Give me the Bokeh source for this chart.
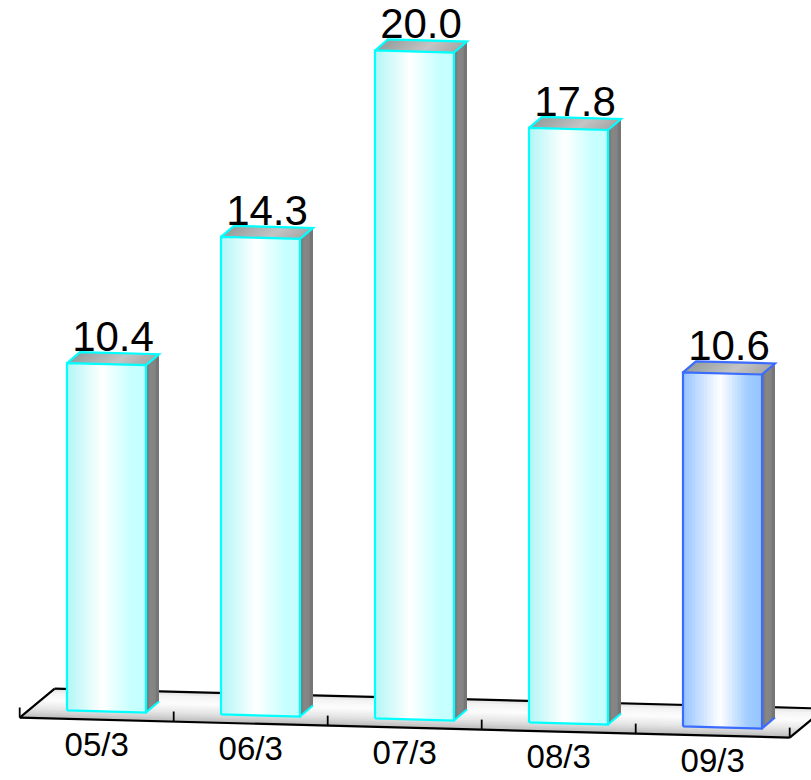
import numpy as np
from bokeh.plotting import figure
from bokeh.models import Range1d
from bokeh.core.properties import value
from bokeh.embed import file_html
from bokeh.resources import INLINE

# ---- data ----
categories = ["05/3", "06/3", "07/3", "08/3", "09/3"]
values = [10.4, 14.3, 20.0, 17.8, 10.6]
highlighted = [False, False, False, False, True]

# ---- oblique projection (data units: x = category step, y = value) ----
PX_X = 154.0          # screen pixels per category step
PX_Y = 33.4           # screen pixels per value unit
SLANT = -4.0 / PX_Y   # floor drops a little towards the right
BAR_W = 0.513
BAR_D = (13.0 / PX_X, 11.0 / PX_Y)         # depth of a bar
FLOOR_FRONT = (-9.8 / PX_X, -8.1 / PX_Y)   # floor front edge, relative to bar fronts
FLOOR_BACK = (25.2 / PX_X, 20.9 / PX_Y)    # floor back edge

W, H = 811, 780
X0_PX, Y0_PX = 106.0, 711.0

VALUE_FS = 42
CAT_FS = 33


def pt(x, v, off=(0.0, 0.0)):
    return x + off[0], v + SLANT * x + off[1]


def lerp_color(stops, t):
    for (t0, c0), (t1, c1) in zip(stops[:-1], stops[1:]):
        if t <= t1:
            f = 0 if t1 == t0 else (t - t0) / (t1 - t0)
            c = [round(a + (b - a) * f) for a, b in zip(c0, c1)]
            return "#%02x%02x%02x" % tuple(c)
    return "#%02x%02x%02x" % tuple(stops[-1][1])


CYAN_FACE = [(0.0, (178, 246, 246)), (0.45, (255, 255, 255)), (0.8, (200, 255, 255)), (1.0, (196, 255, 255))]
BLUE_FACE = [(0.0, (150, 196, 255)), (0.47, (255, 255, 255)), (0.82, (160, 204, 255)), (1.0, (150, 198, 255))]
TOP_FACE = [(0.0, (150, 158, 158)), (0.6, (196, 196, 196)), (1.0, (168, 168, 168))]
SIDE_FACE = [(0.0, (120, 120, 120)), (0.5, (138, 138, 138)), (1.0, (112, 112, 112))]
# floor shade from the front edge (t=0) to the back edge (t=1)
FLOOR = [(0.0, (186, 186, 186)), (0.3, (228, 228, 228)), (0.6, (253, 253, 253)), (0.85, (244, 244, 244)), (1.0, (222, 222, 222))]

p = figure(width=W, height=H, output_backend="svg", toolbar_location=None,
           x_range=Range1d(-X0_PX / PX_X, (W - X0_PX) / PX_X),
           y_range=Range1d(-(H - Y0_PX) / PX_Y, Y0_PX / PX_Y),
           min_border=0, outline_line_color=None)
p.axis.visible = False
p.grid.visible = False
p.background_fill_color = "white"
p.border_fill_color = "white"

# ---- floor ----
xl_f, xr_f = -0.5, len(categories) - 0.5
N = 16
fx, fy, fc = [], [], []
for k in range(N):
    a, b = k / N, min(1.0, (k + 2) / N)
    o0 = tuple(f + (bk - f) * a for f, bk in zip(FLOOR_FRONT, FLOOR_BACK))
    o1 = tuple(f + (bk - f) * b for f, bk in zip(FLOOR_FRONT, FLOOR_BACK))
    pts = [pt(xl_f, 0, o0), pt(xr_f, 0, o0), pt(xr_f, 0, o1), pt(xl_f, 0, o1)]
    fx.append([q[0] for q in pts])
    fy.append([q[1] for q in pts])
    fc.append(lerp_color(FLOOR, (k + 0.5) / N))
p.patches(fx, fy, fill_color=fc, line_color=None)

edges = [
    (pt(xl_f, 0, FLOOR_FRONT), pt(xr_f, 0, FLOOR_FRONT)),
    (pt(xl_f, 0, FLOOR_BACK), pt(xr_f, 0, FLOOR_BACK)),
    (pt(xl_f, 0, FLOOR_FRONT), pt(xl_f, 0, FLOOR_BACK)),
    (pt(xr_f, 0, FLOOR_FRONT), pt(xr_f, 0, FLOOR_BACK)),
]
p.multi_line([[e[0][0], e[1][0]] for e in edges], [[e[0][1], e[1][1]] for e in edges],
             line_color="black", line_width=2.2)

# tick marks on the front edge, between categories
tx, ty = [], []
for i in range(len(categories) + 1):
    x0, y0 = pt(i - 0.5, 0, FLOOR_FRONT)
    tx.append([x0, x0])
    ty.append([y0, y0 + 10.0 / PX_Y])
p.multi_line(tx, ty, line_color="black", line_width=1.8)

# ---- bars ----
S = 26
for i, (v, hl) in enumerate(zip(values, highlighted)):
    xl, xr = i - BAR_W / 2, i + BAR_W / 2
    face_stops = BLUE_FACE if hl else CYAN_FACE
    edge_col = "#3a6cff" if hl else "#00ffff"

    # front face, drawn as overlapping vertical strips
    bx, by, bc = [], [], []
    for k in range(S):
        a = xl + (xr - xl) * k / S
        b = xl + (xr - xl) * min(1.0, (k + 2) / S)
        pts = [pt(a, 0), pt(b, 0), pt(b, v), pt(a, v)]
        bx.append([q[0] for q in pts])
        by.append([q[1] for q in pts])
        bc.append(lerp_color(face_stops, (k + 0.5) / S))
    p.patches(bx, by, fill_color=bc, line_color=None)

    # side face
    sx, sy, sc = [], [], []
    SS = 4
    for k in range(SS):
        a, b = k / SS, min(1.0, (k + 2) / SS)
        oa = (BAR_D[0] * a, BAR_D[1] * a)
        ob = (BAR_D[0] * b, BAR_D[1] * b)
        pts = [pt(xr, 0, oa), pt(xr, 0, ob), pt(xr, v, ob), pt(xr, v, oa)]
        sx.append([q[0] for q in pts])
        sy.append([q[1] for q in pts])
        sc.append(lerp_color(SIDE_FACE, (k + 0.5) / SS))
    p.patches(sx, sy, fill_color=sc, line_color=None)

    # top face
    tx2, ty2, tc2 = [], [], []
    for k in range(S):
        a = xl + (xr - xl) * k / S
        b = xl + (xr - xl) * min(1.0, (k + 2) / S)
        pts = [pt(a, v), pt(b, v), pt(b, v, BAR_D), pt(a, v, BAR_D)]
        tx2.append([q[0] for q in pts])
        ty2.append([q[1] for q in pts])
        tc2.append(lerp_color(TOP_FACE, (k + 0.5) / S))
    p.patches(tx2, ty2, fill_color=tc2, line_color=None)

    # outlines
    front = [pt(xl, 0), pt(xr, 0), pt(xr, v), pt(xl, v), pt(xl, 0)]
    top = [pt(xl, v), pt(xl, v, BAR_D), pt(xr, v, BAR_D), pt(xr, v)]
    bottom_side = [pt(xr, 0), pt(xr, 0, BAR_D)]
    p.multi_line([[q[0] for q in front], [q[0] for q in top], [q[0] for q in bottom_side]],
                 [[q[1] for q in front], [q[1] for q in top], [q[1] for q in bottom_side]],
                 line_color=edge_col, line_width=2.2, line_join="miter")

# ---- value labels, sitting on the back edge of each bar top ----
lx = [i + BAR_D[0] / 2 for i in range(len(values))]
ly = [pt(i, v, BAR_D)[1] + 0.40 * VALUE_FS / PX_Y for i, v in enumerate(values)]
p.text(lx, ly, text=["%.1f" % v for v in values], text_align="center",
       text_baseline="alphabetic", text_font=value("Liberation Sans"),
       text_font_size="%dpx" % VALUE_FS, text_color="black")

# ---- category labels below the floor front edge ----
cx = [pt(i, 0, FLOOR_FRONT)[0] for i in range(len(categories))]
cy = [pt(i, 0, FLOOR_FRONT)[1] - (39.0 - 0.44 * CAT_FS) / PX_Y for i in range(len(categories))]
p.text(cx, cy, text=categories, text_align="center", text_baseline="alphabetic",
       text_font=value("Liberation Sans"), text_font_size="%dpx" % CAT_FS, text_color="black")

open("out.html", "w").write(file_html(p, INLINE))
